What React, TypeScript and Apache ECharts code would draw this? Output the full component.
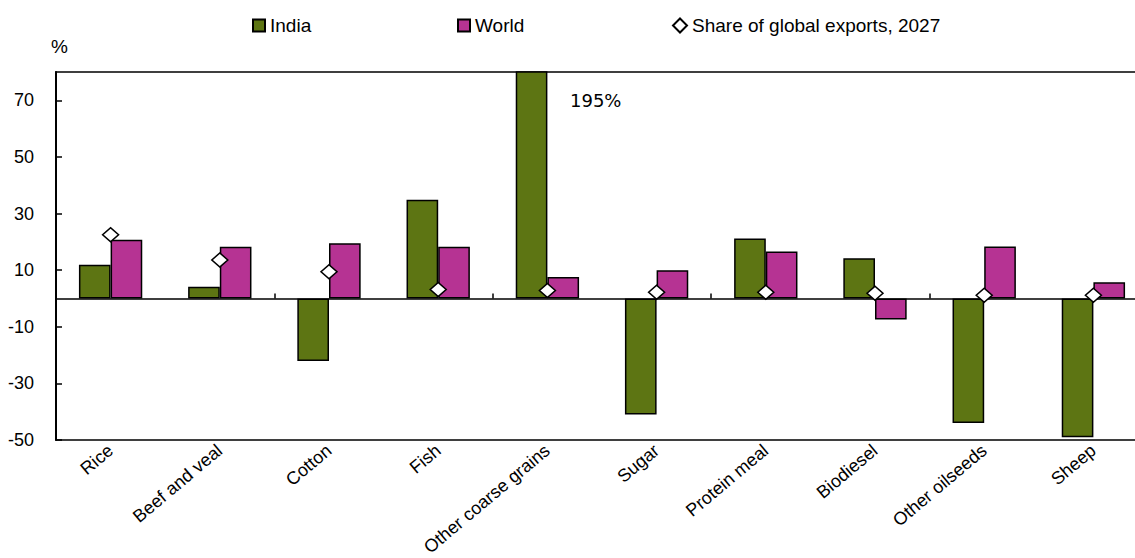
import React, { useEffect, useRef } from "react";
import * as echarts from "echarts";

const categories = [
  "Rice",
  "Beef and veal",
  "Cotton",
  "Fish",
  "Other coarse grains",
  "Sugar",
  "Protein meal",
  "Biodiesel",
  "Other oilseeds",
  "Sheep",
];
const indiaValues = [11.9, 4.1, -22.1, 34.9, 195, -41, 21.2, 14.2, -44, -49];
const worldValues = [20.7, 18.3, 19.5, 18.3, 7.6, 10.0, 16.6, -7.4, 18.4, 5.7];
const shareValues = [22.5, 13.6, 9.4, 3.2, 2.8, 2.2, 2.2, 1.8, 1.1, 1.1];
const seriesNames = ["India", "World", "Share of global exports, 2027"];
const yTicks = { min: -50, max: 80, interval: 20 };
const overflowLabel = "195%";

const FONT = "'Liberation Sans', Arial, sans-serif";
const GREEN = "#5D7513";
const MAGENTA = "#B63393";

export default function App() {
  const ref = useRef<HTMLDivElement>(null);
  useEffect(() => {
    if (!ref.current) return;
    const chart = echarts.init(ref.current, undefined, { renderer: "svg" });
    const legendBase = {
      top: 11,
      itemWidth: 12,
      itemHeight: 12,
      itemGap: 6,
      textStyle: { fontFamily: FONT, fontSize: 19, color: "#000" },
      selectedMode: false as const,
    };
    chart.setOption({
      animation: false,
      backgroundColor: "#fff",
      grid: {
        left: 56,
        right: -13,
        top: 72,
        bottom: 118,
        outerBoundsMode: "none",
        containLabel: false,
        show: true,
        borderColor: "#000",
        borderWidth: 1.5,
        backgroundColor: "transparent",
      },
      legend: [
        { ...legendBase, left: 247, data: [{ name: seriesNames[0], icon: "rect" }] },
        { ...legendBase, left: 452, data: [{ name: seriesNames[1], icon: "rect" }] },
        {
          ...legendBase,
          left: 667,
          itemWidth: 14,
          itemHeight: 14,
          data: [{ name: seriesNames[2], icon: "diamond" }],
        },
      ],
      xAxis: [
        {
          type: "category",
          data: categories,
          position: "bottom",
          axisLine: { show: true, onZero: true, lineStyle: { color: "#000", width: 1.5 } },
          axisTick: { show: true, inside: true, length: 5, lineStyle: { color: "#000", width: 1.5 } },
          axisLabel: { show: false },
          splitLine: { show: false },
        },
        {
          type: "category",
          data: categories,
          position: "bottom",
          axisLine: { show: false, onZero: false },
          axisTick: { show: false },
          axisLabel: {
            show: true,
            rotate: 40,
            margin: 8,
            interval: 0,
            fontFamily: FONT,
            fontSize: 18,
            color: "#000",
          },
          splitLine: { show: false },
        },
      ],
      yAxis: {
        type: "value",
        min: yTicks.min,
        max: yTicks.max,
        interval: yTicks.interval,
        axisLine: { show: true, lineStyle: { color: "#000", width: 2 } },
        axisTick: { show: true, inside: true, length: 6, lineStyle: { color: "#000", width: 1.5 } },
        axisLabel: {
          showMaxLabel: false,
          margin: 22,
          fontFamily: FONT,
          fontSize: 18,
          color: "#000",
        },
        splitLine: { show: false },
      },
      series: [
        {
          name: seriesNames[0],
          type: "bar",
          xAxisIndex: 0,
          data: indiaValues,
          barGap: "0%",
          barCategoryGap: "42%",
          clip: true,
          itemStyle: { color: GREEN, borderColor: "#000", borderWidth: 1.5 },
        },
        {
          name: seriesNames[1],
          type: "bar",
          xAxisIndex: 0,
          data: worldValues,
          barGap: "0%",
          barCategoryGap: "42%",
          clip: true,
          itemStyle: { color: MAGENTA, borderColor: "#000", borderWidth: 1.5 },
        },
        {
          name: seriesNames[2],
          type: "scatter",
          xAxisIndex: 0,
          data: shareValues,
          symbol: "diamond",
          symbolSize: [16, 14],
          z: 5,
          itemStyle: { color: "#fff", borderColor: "#000", borderWidth: 1.5, opacity: 1 },
        },
      ],
      graphic: [
        {
          type: "text",
          left: 51,
          top: 37,
          style: { text: "%", font: `19px ${FONT}`, fill: "#000" },
        },
        {
          type: "text",
          left: 570,
          top: 91,
          style: { text: overflowLabel, font: "18px 'DejaVu Sans', Verdana, sans-serif", fill: "#000" },
        },
      ],
    });
    return () => chart.dispose();
  }, []);
  return (
    <div
      ref={ref}
      style={{ position: "fixed", left: 0, top: 0, width: 1135, height: 558 }}
    />
  );
}
